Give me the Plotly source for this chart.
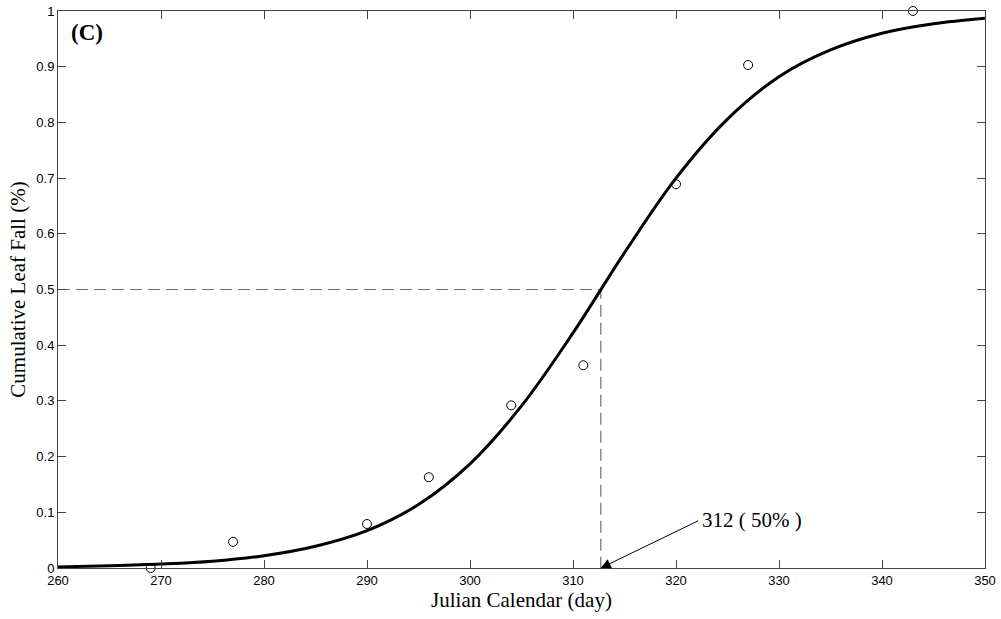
import plotly.graph_objects as go

# Observed cumulative leaf fall
obs_day = [269, 277, 290, 296, 304, 311, 320, 327, 343]
obs_frac = [0.0, 0.047, 0.079, 0.163, 0.292, 0.364, 0.689, 0.903, 1.0]

# Fitted curve values
fit_day = [260, 265, 270, 275, 280, 285, 290, 295, 300, 305, 310, 315, 320, 325, 330, 335, 340, 345, 350]
fit_frac = [0.002, 0.004, 0.007, 0.012, 0.022, 0.039, 0.067, 0.114, 0.187, 0.291, 0.422, 0.566,
            0.700, 0.806, 0.882, 0.930, 0.960, 0.977, 0.987]

half_day = 312.7
half_frac = 0.5
x_ticks = [260, 270, 280, 290, 300, 310, 320, 330, 340, 350]
y_ticks = [0, 0.1, 0.2, 0.3, 0.4, 0.5, 0.6, 0.7, 0.8, 0.9, 1]
y_tick_text = ["0", "0.1", "0.2", "0.3", "0.4", "0.5", "0.6", "0.7", "0.8", "0.9", "1"]

fig = go.Figure()
fig.add_trace(go.Scatter(x=[260, half_day, half_day], y=[half_frac, half_frac, 0],
                         mode="lines", line=dict(color="#707070", width=1.2, dash="12px,6px"),
                         showlegend=False, hoverinfo="skip"))
fig.add_trace(go.Scatter(x=fit_day, y=fit_frac, mode="lines",
                         line=dict(color="black", width=3, shape="spline"), showlegend=False))
fig.add_trace(go.Scatter(x=obs_day, y=obs_frac, mode="markers",
                         marker=dict(symbol="circle-open", size=9, color="black", line=dict(width=1)),
                         cliponaxis=False, showlegend=False))

fig.add_annotation(x=half_day, y=0, ax=322.3, ay=0.086, xref="x", yref="y", axref="x", ayref="y",
                   text="", showarrow=True, arrowhead=2, arrowsize=2, arrowwidth=1, arrowcolor="black")
fig.add_annotation(x=322.3, y=0.086, xref="x", yref="y", text="312 ( 50% )", showarrow=False,
                   xanchor="left", yanchor="middle",
                   font=dict(family="Liberation Serif", size=21, color="black"))
fig.add_annotation(x=0.012, y=0.988, xref="paper", yref="paper", text="<b>(C)</b>", showarrow=False,
                   xanchor="left", yanchor="top",
                   font=dict(family="Liberation Serif", size=23, color="black"))

axis_common = dict(showgrid=False, zeroline=False, showline=True, linecolor="#444", linewidth=1,
                   mirror="ticks", ticks="inside", ticklen=8, tickcolor="#444", automargin=False,
                   tickfont=dict(family="Liberation Sans", size=13, color="black"))
fig.update_xaxes(range=[260, 350], tickvals=x_ticks,
                 title=dict(text="Julian Calendar (day)", standoff=1,
                            font=dict(family="Liberation Serif", size=21, color="black")),
                 **axis_common)
fig.update_yaxes(range=[0, 1], tickvals=y_ticks, ticktext=y_tick_text,
                 title=dict(text="Cumulative Leaf Fall (%)", standoff=4,
                            font=dict(family="Liberation Serif", size=21, color="black")),
                 **axis_common)
fig.update_layout(width=1001, height=619, margin=dict(l=58, r=16, t=11, b=51),
                  plot_bgcolor="white", paper_bgcolor="white")
fig.write_html("out.html")
